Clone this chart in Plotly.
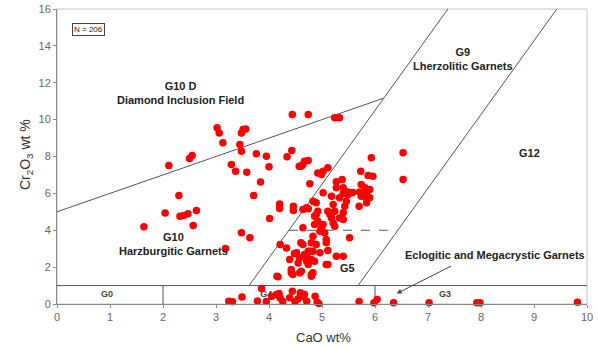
import plotly.graph_objects as go

# ---- data: garnet analyses (CaO wt%, Cr2O3 wt%) ----
cao = [1.64, 2.04, 2.30, 2.32, 2.39, 2.47, 2.63, 2.57, 2.11, 2.50, 2.55, 3.18, 3.48, 3.64, 3.71, 3.84,
       4.01, 4.20, 4.20, 4.21, 4.33, 4.15, 4.46, 4.46, 4.48, 4.44, 3.86, 3.02, 3.06, 3.13, 3.51, 3.56,
       3.48, 3.45, 3.48, 3.76, 3.95, 4.00, 3.29, 3.37, 3.58, 4.44, 4.34, 4.43, 4.57, 4.74, 5.24, 5.33,
       4.67, 4.74, 4.61, 4.64, 4.92, 5.02, 5.11, 4.99, 4.77, 5.02, 5.27, 5.38, 5.27, 5.40, 5.49, 5.73,
       5.93, 5.87, 5.96, 5.74, 5.81, 5.90, 5.71, 5.84, 6.53, 6.53, 5.49, 5.84, 5.74, 5.90, 5.70, 5.84,
       4.83, 5.18, 5.33, 5.46, 5.43, 5.21, 5.11, 5.24, 5.40, 5.33, 5.18, 5.21, 4.71, 4.64, 4.86, 4.92,
       4.99, 4.64, 5.05, 5.08, 5.52, 5.27, 5.40, 5.11, 4.80, 4.77, 4.67, 4.71, 4.64, 4.89, 4.89, 5.15,
       5.40, 5.24, 5.02, 4.96, 4.83, 4.89, 5.08, 4.83, 4.96, 5.11, 4.80, 4.83, 5.40, 5.58, 4.74, 4.86,
       4.60, 4.80, 4.58, 4.74, 4.42, 4.45, 4.61, 4.74, 4.86, 4.80, 4.17, 4.55, 4.39, 4.58, 4.71, 4.52,
       5.08, 4.92, 4.42,
       3.24, 3.31, 3.49, 3.78, 3.95, 4.05, 4.14, 4.19, 4.21, 4.26, 4.39, 4.49, 4.55, 4.59, 4.62, 4.67,
       4.71, 4.87, 4.91, 4.94, 5.70, 5.98, 6.04, 6.35, 7.02, 7.92, 7.98, 9.82]
cr2o3 = [4.19, 4.93, 5.88, 4.76, 4.80, 4.90, 5.07, 4.26, 7.51, 7.89, 8.05, 3.01, 3.86, 3.59, 5.89, 6.62,
         4.64, 5.43, 5.18, 3.23, 3.04, 1.51, 5.30, 5.07, 2.74, 0.69, 0.84, 9.56, 9.28, 8.74, 9.46, 9.49,
         9.28, 8.65, 8.29, 8.15, 8.02, 7.44, 7.57, 7.20, 7.15, 10.28, 7.98, 8.32, 7.47, 10.28, 10.10, 10.10,
         7.74, 7.78, 7.47, 7.57, 7.11, 7.20, 7.39, 7.02, 6.52, 6.03, 6.63, 6.75, 6.30, 6.30, 6.08, 7.20,
         7.93, 6.97, 6.93, 6.48, 6.30, 6.21, 6.08, 6.03, 8.20, 6.75, 5.94, 5.76, 5.85, 5.76, 5.30, 5.49,
         5.57, 5.85, 5.76, 5.57, 5.30, 5.40, 5.03, 5.03, 4.95, 4.67, 4.67, 4.40, 5.22, 5.12, 4.76, 4.49,
         4.13, 4.13, 3.86, 3.50, 3.59, 2.59, 2.59, 2.14, 1.60, 2.86, 2.68, 2.32, 3.23, 5.49, 4.85, 4.85,
         4.58, 4.22, 4.31, 3.95, 3.68, 3.23, 3.32, 2.86, 2.78, 2.90, 2.41, 1.69, 5.99, 6.05, 5.16, 4.31,
         3.32, 3.32, 2.51, 2.86, 1.87, 1.60, 1.78, 2.14, 2.32, 1.51, 1.48, 2.23, 2.41, 1.69, 2.59, 2.78,
         2.14, 5.03, 1.69,
         0.15, 0.12, 0.38, 0.16, 0.14, 0.42, 0.52, 0.57, 0.33, 0.14, 0.34, 0.14, 0.28, 0.61, 0.41, 0.52,
         0.15, 0.42, 0.10, 0.03, 0.14, 0.07, 0.24, 0.07, 0.07, 0.07, 0.07, 0.10]

# ---- classification field boundaries (CaO, Cr2O3 endpoints) ----
g10d_line_x = [0, 6.15]
g10d_line_y = [5, 11.15]
lherz_left_x = [3.625, 7.375]
lherz_left_y = [1, 16]
lherz_right_x = [5.68, 9.43]
lherz_right_y = [1, 16]
g5_dash_x = [4.375, 6.43]
g5_dash_y = [4, 4]
low_cr_x = [0, 10]
low_cr_y = [1, 1]
div_g0_x = [2, 2]
div_g3_x = [6, 6]
div_y = [0, 1]

x_ticks = list(range(0, 11))
y_ticks = list(range(0, 17, 2))

FONT = "Liberation Sans, Arial, sans-serif"
LINE = dict(color="#555555", width=1)

fig = go.Figure()

def seg(x, y, dash=None):
    ln = dict(LINE)
    if dash:
        ln["dash"] = dash
    fig.add_trace(go.Scatter(x=x, y=y, mode="lines", line=ln, hoverinfo="skip",
                             showlegend=False, cliponaxis=False))

seg(g10d_line_x, g10d_line_y)
seg(lherz_left_x, lherz_left_y)
seg(lherz_right_x, lherz_right_y)
seg(g5_dash_x, g5_dash_y, dash="dash")
seg(low_cr_x, low_cr_y)
seg(div_g0_x, div_y)
seg(div_g3_x, div_y)

# G4 label sits beneath the data points
fig.add_trace(go.Scatter(x=[3.95], y=[0.52], mode="text", text=["<b>G4</b>"],
                         textfont=dict(family=FONT, size=9, color="#444"),
                         hoverinfo="skip", showlegend=False))

fig.add_trace(go.Scatter(x=cao, y=cr2o3, mode="markers",
                         marker=dict(color="#ff0000", size=7.5, line=dict(width=0)),
                         showlegend=False, cliponaxis=False))

def lab(x, y, text, size=11, color="#222222", bold=True):
    fig.add_annotation(x=x, y=y, xref="x", yref="y", text=(f"<b>{text}</b>" if bold else text),
                       showarrow=False, font=dict(family=FONT, size=size, color=color),
                       align="center")

lab(2.33, 11.42, "G10 D<br>Diamond Inclusion Field")
lab(7.66, 13.29, "G9<br>Lherzolitic Garnets")
lab(8.92, 8.2, "G12")
lab(2.20, 3.23, "G10<br>Harzburgitic Garnets")
lab(5.49, 1.96, "G5")
lab(8.26, 2.68, "Eclogitic and Megacrystic Garnets")
lab(0.94, 0.52, "G0", size=9, color="#444")
lab(7.32, 0.55, "G3", size=9, color="#444")

fig.add_annotation(x=6.41, y=0.57, ax=7.46, ay=2.09, xref="x", yref="y", axref="x", ayref="y",
                   text="", showarrow=True, arrowhead=2, arrowsize=1, arrowwidth=1,
                   arrowcolor="#444")

fig.add_annotation(x=0.59, y=14.9, xref="x", yref="y", text="N = 206", showarrow=False,
                   font=dict(family=FONT, size=8, color="#222"), bordercolor="#444",
                   borderwidth=1, borderpad=1, bgcolor="white")

fig.add_annotation(x=0.502, y=0, xref="paper", yref="paper", yshift=-33, yanchor="middle",
                   xanchor="center", text="CaO wt%", showarrow=False,
                   font=dict(family=FONT, size=13, color="#333"))
fig.add_annotation(x=0, y=0.505, xref="paper", yref="paper", xshift=-31, xanchor="center",
                   yanchor="middle", text="Cr<sub>2</sub>O<sub>3</sub> wt %", textangle=-90,
                   showarrow=False, font=dict(family=FONT, size=14, color="#333"))

fig.add_shape(type="rect", xref="paper", yref="paper", x0=0, y0=0, x1=1, y1=1,
              line=dict(color="#c4c4c4", width=1), layer="below")

axis_common = dict(showgrid=False, zeroline=False, showline=True, linecolor="#888888",
                   linewidth=1, ticks="outside", ticklen=3, tickcolor="#888888",
                   automargin=False,
                   tickfont=dict(family=FONT, size=11, color="#666666"))

fig.update_layout(
    width=598, height=347,
    margin=dict(l=57, r=11, t=9, b=43),
    paper_bgcolor="white", plot_bgcolor="white",
    xaxis=dict(range=[0, 10], tickvals=x_ticks, **axis_common),
    yaxis=dict(range=[0, 16], tickvals=y_ticks, **axis_common),
    showlegend=False,
)

# remove the default page-body margin so the figure sits at the window's corner
fig.write_html("out.html", config={"displayModeBar": False},
               post_script="document.body.style.margin='0px';document.body.style.overflow='hidden';")
